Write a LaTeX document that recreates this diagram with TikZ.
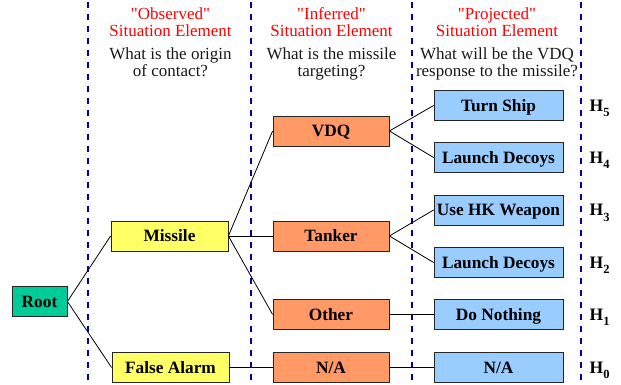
\documentclass[tikz,border=0pt]{standalone}
\usepackage{fontspec}
\setmainfont{Liberation Serif}
\definecolor{rootc}{RGB}{0,204,153}
\definecolor{yelc}{RGB}{255,255,102}
\definecolor{orac}{RGB}{255,153,102}
\definecolor{bluc}{RGB}{153,204,255}
\definecolor{redc}{RGB}{255,0,0}
\definecolor{dashc}{RGB}{0,0,170}
\newcommand{\sq}{\XeTeXglyph\XeTeXglyphindex "quotedbl" \relax}
\begin{document}
\begin{tikzpicture}[x=1pt,y=-1pt,
  box/.style={draw=black!85, line width=0.8pt, minimum height=30pt, inner sep=0pt,
    text height=11.6pt, text depth=0pt,
    font=\bfseries\fontsize{17.3}{17}\selectfont},
  rootbox/.style={box, fill=rootc, minimum width=55pt},
  obsbox/.style={box, fill=yelc, minimum width=117pt},
  infbox/.style={box, fill=orac, minimum width=116pt},
  probox/.style={box, fill=bluc, minimum width=129pt},
  hlab/.style={anchor=west, inner sep=0pt, text height=11.6pt, text depth=0pt,
    font=\bfseries\fontsize{17.5}{17}\selectfont},
  redtxt/.style={anchor=base, inner sep=0pt, text=redc, font=\fontsize{17}{17}\selectfont},
  blktxt/.style={anchor=base, inner sep=0pt, text=black!90, font=\fontsize{17}{17}\selectfont},
  sep/.style={draw=dashc, line width=1.8pt, dash pattern=on 6pt off 6pt},
  conn/.style={draw=black, line width=0.8pt}]
\useasboundingbox (0,0) rectangle (621,385);
% separators
\draw[sep] (88,2) -- (88,385);
\draw[sep] (251,2) -- (251,385);
\draw[sep] (412,2) -- (412,385);
\draw[sep] (581,2) -- (581,385);
% headers
\node[redtxt] (h1a) at (170.5,20) {\sq Observed\sq};
\node[redtxt] (h1b) at (170.5,37) {Situation Element};
\node[blktxt] (h1c) at (170.5,60) {What is the origin};
\node[blktxt] (h1d) at (170.5,77) {of contact?};
\node[redtxt] (h2a) at (331.5,20) {\sq Inferred\sq};
\node[redtxt] (h2b) at (331.5,37) {Situation Element};
\node[blktxt] (h2c) at (331.5,60) {What is the missile};
\node[blktxt] (h2d) at (331.5,77) {targeting?};
\node[redtxt] (h3a) at (497,20) {\sq Projected\sq};
\node[redtxt] (h3b) at (497,37) {Situation Element};
\node[blktxt] (h3c) at (497,60) {What will be the VDQ};
\node[blktxt] (h3d) at (497,77) {response to the missile?};
% nodes
\node[rootbox] (root) at (39.5,301.5) {Root};
\node[obsbox] (missile) at (169.5,236) {Missile};
\node[obsbox] (false) at (170.5,367.5) {False Alarm};
\node[infbox] (vdq) at (331,131) {VDQ};
\node[infbox] (tanker) at (331,236) {Tanker};
\node[infbox] (other) at (331,314.5) {Other};
\node[infbox] (na1) at (331,367.5) {N/A};
\node[probox] (turn) at (498.5,105.5) {Turn Ship};
\node[probox] (ld1) at (498.5,157.5) {Launch Decoys};
\node[probox] (hk) at (498.5,210) {Use HK Weapon};
\node[probox] (ld2) at (498.5,262.5) {Launch Decoys};
\node[probox] (dn) at (498.5,314.5) {Do Nothing};
\node[probox] (na2) at (498.5,367.5) {N/A};
% hypothesis labels
\newcommand{\hyp}[1]{H\raisebox{-0.32em}{\fontsize{12.5}{12}\selectfont\bfseries #1}}
\node[hlab] (H5) at (589.5,105.5) {\hyp{5}};
\node[hlab] (H4) at (589.5,157.5) {\hyp{4}};
\node[hlab] (H3) at (589.5,210) {\hyp{3}};
\node[hlab] (H2) at (589.5,262.5) {\hyp{2}};
\node[hlab] (H1) at (589.5,314.5) {\hyp{1}};
\node[hlab] (H0) at (589.5,367.5) {\hyp{0}};
% connectors
\draw[conn] (root.east) -- (missile.west);
\draw[conn] (root.east) -- (false.west);
\draw[conn] (missile.east) -- (vdq.west);
\draw[conn] (missile.east) -- (tanker.west);
\draw[conn] (missile.east) -- (other.west);
\draw[conn] (false.east) -- (na1.west);
\draw[conn] (vdq.east) -- (turn.west);
\draw[conn] (vdq.east) -- (ld1.west);
\draw[conn] (tanker.east) -- (hk.west);
\draw[conn] (tanker.east) -- (ld2.west);
\draw[conn] (other.east) -- (dn.west);
\draw[conn] (na1.east) -- (na2.west);
\end{tikzpicture}
\end{document}
